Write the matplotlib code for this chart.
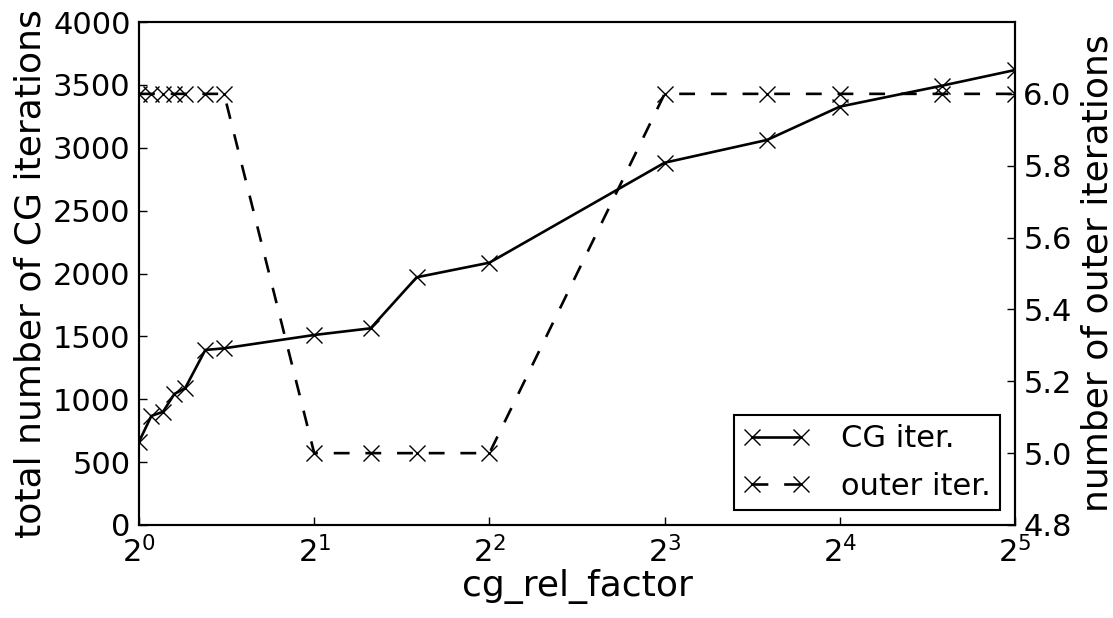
import matplotlib
matplotlib.use("Agg")
import matplotlib.pyplot as plt
from matplotlib.ticker import LogFormatterSciNotation, FixedLocator

cg_rel_factor = [1.0, 1.05, 1.1, 1.15, 1.2, 1.3, 1.4, 2.0, 2.5, 3.0, 4.0, 8.0, 12.0, 16.0, 24.0, 32.0]
cg_iter = [662, 867, 901, 1042, 1087, 1392, 1405, 1511, 1564, 1970, 2086, 2881, 3062, 3327, 3494, 3618]
outer_iter = [6, 6, 6, 6, 6, 6, 6, 5, 5, 5, 5, 6, 6, 6, 6, 6]

left_ticks = [0, 500, 1000, 1500, 2000, 2500, 3000, 3500, 4000]
right_ticks = [4.8, 5.0, 5.2, 5.4, 5.6, 5.8, 6.0]

plt.rcParams['font.family'] = ['DejaVu Sans']
plt.rcParams['mathtext.fontset'] = 'dejavusans'
FS_TICK = 22
FS_LABEL = 26
FS_LEG = 22

fig = plt.figure(figsize=(11.13, 6.18), dpi=100)
ax = fig.add_axes([139/1113, 1-525/618, (1015-139)/1113, (525-22)/618])
ax2 = ax.twinx()

l1, = ax.plot(cg_rel_factor, cg_iter, color='black', linestyle='-', linewidth=1.9,
              marker='x', markersize=11, markeredgewidth=1.0, label='CG iter.')
l2, = ax2.plot(cg_rel_factor, outer_iter, color='black', linestyle='--', linewidth=1.9,
               dashes=(6, 6), marker='x', markersize=11, markeredgewidth=1.0, label='outer iter.')

ax.set_xscale('log', base=2)
ax.set_xlim(1, 32)
ax.xaxis.set_major_formatter(LogFormatterSciNotation(base=2))
ax.xaxis.set_minor_locator(FixedLocator([]))
ax.set_ylim(0, 4000)
ax.set_yticks(left_ticks)
ax2.set_ylim(4.8, 6.2)
ax2.set_yticks(right_ticks)
ax2.set_yticklabels(['%.1f' % t for t in right_ticks])

for a in (ax, ax2):
    a.tick_params(direction='in', length=6, width=1, labelsize=FS_TICK, pad=6)
    for s in a.spines.values():
        s.set_linewidth(1.5)
ax.tick_params(axis='x', pad=8)

ax.set_xlabel('cg_rel_factor', fontsize=FS_LABEL, labelpad=0)
ax.set_ylabel('total number of CG iterations', fontsize=FS_LABEL, labelpad=4)
ax2.set_ylabel('number of outer iterations', fontsize=FS_LABEL, labelpad=6)

leg = ax2.legend([l1, l2], ['CG iter.', 'outer iter.'], loc='lower right', fontsize=FS_LEG,
                 numpoints=2, fancybox=False, framealpha=1, edgecolor='black',
                 handlelength=2.2, handletextpad=1.0, borderaxespad=0.5,
                 labelspacing=0.6, borderpad=0.3)
leg.get_frame().set_linewidth(1.5)

fig.savefig('out.png', dpi=100)
